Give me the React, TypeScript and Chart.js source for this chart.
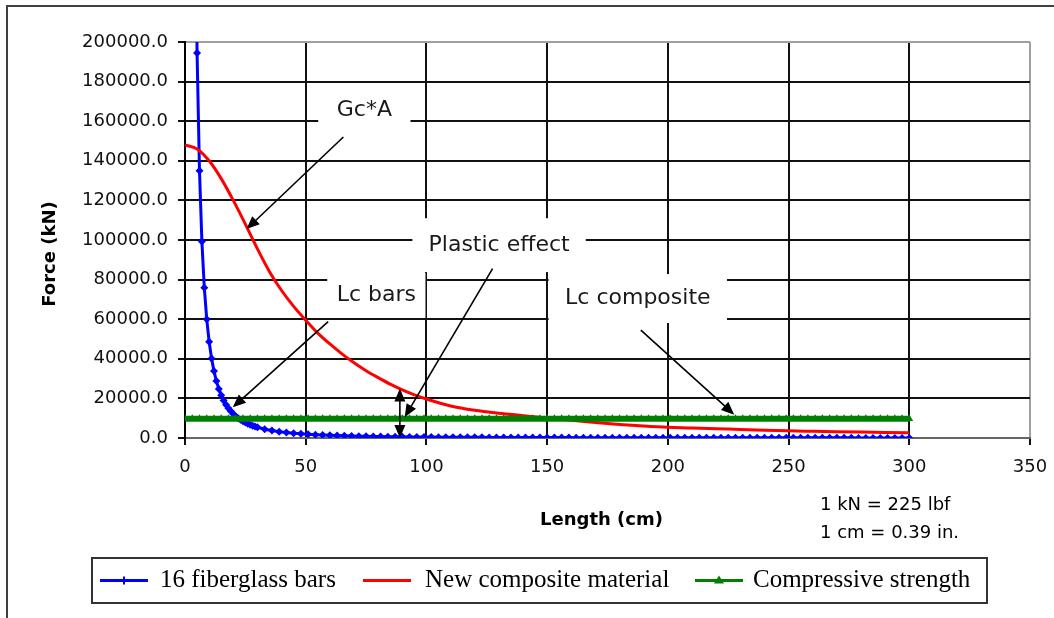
import React, { useEffect, useRef } from "react";
import { Chart, registerables } from "chart.js";

Chart.register(...registerables);

// ---------- data ----------
const seriesNames = ["16 fiberglass bars", "New composite material", "Compressive strength"];

const barLengths = [
  4, 5, 6, 7, 8, 9, 10, 11, 12, 13, 14, 15, 16, 17, 18, 19, 20, 21, 22, 23, 24, 25, 26, 27, 28, 29, 30,
  33, 36, 39, 42, 45, 48, 51, 54, 57, 60, 63, 66, 69, 72, 75, 78, 81, 84, 87, 90, 93, 96, 99,
  102, 105, 108, 111, 114, 117, 120, 123, 126, 129, 132, 135, 138, 141, 144, 147, 150,
  153, 156, 159, 162, 165, 168, 171, 174, 177, 180, 183, 186, 189, 192, 195, 198, 201,
  204, 207, 210, 213, 216, 219, 222, 225, 228, 231, 234, 237, 240, 243, 246, 249, 252,
  255, 258, 261, 264, 267, 270, 273, 276, 279, 282, 285, 288, 291, 294, 297, 300,
];
const barForces = [
  303800, 194400, 135000, 99200, 75900, 60000, 48600, 40200, 33800, 28800, 24800, 21600, 19000, 16800, 15000, 13500, 12150, 11000, 10000, 9200, 8400, 7800, 7200, 6700, 6200, 5800, 5400,
  4460, 3750, 3200, 2760, 2400, 2110, 1870, 1670, 1500, 1350, 1220, 1120, 1020, 940, 860, 800, 740, 690, 640, 600, 560, 530, 500,
  470, 440, 420, 390, 370, 355, 340, 320, 305, 290, 280, 265, 255, 245, 235, 225, 215,
  210, 200, 190, 185, 180, 170, 165, 160, 155, 150, 145, 140, 135, 130, 128, 124, 120,
  117, 113, 110, 107, 104, 101, 99, 96, 93, 91, 89, 87, 84, 82, 80, 78, 77,
  75, 73, 71, 70, 68, 67, 65, 64, 62, 61, 60, 59, 57, 56, 55, 54,
];

const compositeLengths = [
  0, 5, 10, 15, 20, 25, 30, 35, 40, 45, 50, 55, 60, 65, 70, 75, 80, 85, 90, 95, 100,
  110, 120, 130, 140, 150, 160, 170, 180, 190, 200, 210, 220, 230, 240, 250, 260, 270, 280, 290, 300,
];
const compositeForces = [
  148000, 146000, 140000, 131000, 120000, 108000, 95500, 84000, 74500, 66500, 59500, 53000, 47500, 42500, 38000, 34000, 30500, 27200, 24300, 21800, 19700,
  16200, 14000, 12500, 11300, 10100, 9000, 7800, 6800, 6000, 5400, 5100, 4700, 4300, 3900, 3600, 3400, 3200, 3000, 2800, 2600,
];

const strengthLengths = [
  0, 3, 6, 9, 12, 15, 18, 21, 24, 27, 30, 33, 36, 39, 42, 45, 48, 51, 54, 57, 60, 63, 66, 69, 72, 75,
  78, 81, 84, 87, 90, 93, 96, 99, 102, 105, 108, 111, 114, 117, 120, 123, 126, 129, 132, 135, 138, 141, 144, 147, 150,
  153, 156, 159, 162, 165, 168, 171, 174, 177, 180, 183, 186, 189, 192, 195, 198, 201, 204, 207, 210, 213, 216, 219, 222, 225,
  228, 231, 234, 237, 240, 243, 246, 249, 252, 255, 258, 261, 264, 267, 270, 273, 276, 279, 282, 285, 288, 291, 294, 297, 300,
];
const strengthForces = [
  9700, 9700, 9700, 9700, 9700, 9700, 9700, 9700, 9700, 9700, 9700, 9700, 9700, 9700, 9700, 9700, 9700, 9700, 9700, 9700, 9700, 9700, 9700, 9700, 9700, 9700,
  9700, 9700, 9700, 9700, 9700, 9700, 9700, 9700, 9700, 9700, 9700, 9700, 9700, 9700, 9700, 9700, 9700, 9700, 9700, 9700, 9700, 9700, 9700, 9700, 9700,
  9700, 9700, 9700, 9700, 9700, 9700, 9700, 9700, 9700, 9700, 9700, 9700, 9700, 9700, 9700, 9700, 9700, 9700, 9700, 9700, 9700, 9700, 9700, 9700, 9700,
  9700, 9700, 9700, 9700, 9700, 9700, 9700, 9700, 9700, 9700, 9700, 9700, 9700, 9700, 9700, 9700, 9700, 9700, 9700, 9700, 9700, 9700, 9700, 9700, 9700,
];

// axis ranges / ticks
const xMin = 0, xMax = 350, xStep = 50;
const yMin = 0, yMax = 200000, yStep = 20000;

// text
const xTitle = "Length (cm)";
const yTitle = "Force (kN)";
const notes = ["1 kN = 225 lbf", "1 cm = 0.39 in."];

// callouts (in data units)
const callouts = [
  { text: "Gc*A", box: [55.2, 153500, 93.4, 178000], from: [65.6, 152000], to: [25.5, 105500] },
  { text: "Plastic effect", box: [94.2, 83800, 166, 111000], from: [127.4, 85500], to: [91, 10500] },
  { text: "Lc bars", box: [58.9, 60600, 99.6, 83300], from: [59.3, 58800], to: [19.8, 15500] },
  { text: "Lc composite", box: [150.6, 58100, 224.5, 82800], from: [188.8, 54500], to: [227.5, 11800] },
];
const doubleArrow = { x: 89, top: 25000, bottom: 0 };

// ---------- styles ----------
const W = 1054, H = 618;
const SANS = "DejaVu Sans";
const SERIF = "Liberation Serif";
const BLUE = "#0000ff", RED = "#ff0000", GREEN = "#008000";

function toPoints(xs: number[], ys: number[]) {
  return xs.map((x, i) => ({ x, y: ys[i] }));
}

function drawArrowHead(ctx: CanvasRenderingContext2D, x1: number, y1: number, x2: number, y2: number, len = 13, hw = 5.5) {
  const a = Math.atan2(y2 - y1, x2 - x1);
  const bx = x2 - len * Math.cos(a), by = y2 - len * Math.sin(a);
  ctx.beginPath();
  ctx.moveTo(x2, y2);
  ctx.lineTo(bx + hw * Math.sin(a), by - hw * Math.cos(a));
  ctx.lineTo(bx - hw * Math.sin(a), by + hw * Math.cos(a));
  ctx.closePath();
  ctx.fill();
}

function drawArrow(ctx: CanvasRenderingContext2D, x1: number, y1: number, x2: number, y2: number) {
  const a = Math.atan2(y2 - y1, x2 - x1);
  ctx.beginPath();
  ctx.moveTo(x1, y1);
  ctx.lineTo(x2 - 10 * Math.cos(a), y2 - 10 * Math.sin(a));
  ctx.stroke();
  drawArrowHead(ctx, x1, y1, x2, y2);
}

const calloutPlugin = {
  id: "callouts",
  afterDatasetsDraw(chart: any) {
    const { ctx } = chart;
    const xs = chart.scales.x, ys = chart.scales.y;
    const px = (v: number) => xs.getPixelForValue(v);
    const py = (v: number) => ys.getPixelForValue(v);
    ctx.save();
    for (const c of callouts) {
      const [x0, y0, x1, y1] = c.box;
      const l = px(x0), r = px(x1), t = py(y1), b = py(y0);
      ctx.fillStyle = "#ffffff";
      ctx.fillRect(l, t, r - l, b - t);
      ctx.fillStyle = "#1a1a1a";
      ctx.font = `22px "${SANS}"`;
      ctx.textAlign = "center";
      ctx.textBaseline = "middle";
      ctx.fillText(c.text, (l + r) / 2, (t + b) / 2);
    }
    ctx.strokeStyle = "#000";
    ctx.fillStyle = "#000";
    ctx.lineWidth = 1.6;
    for (const c of callouts) {
      drawArrow(ctx, px(c.from[0]), py(c.from[1]), px(c.to[0]), py(c.to[1]));
    }
    const dx = px(doubleArrow.x), dt = py(doubleArrow.top), db = py(doubleArrow.bottom);
    ctx.beginPath();
    ctx.moveTo(dx, dt + 10);
    ctx.lineTo(dx, db - 10);
    ctx.stroke();
    drawArrowHead(ctx, dx, db, dx, dt);
    drawArrowHead(ctx, dx, dt, dx, db);
    ctx.restore();
  },
  afterDraw(chart: any) {
    const { ctx, chartArea } = chart;
    ctx.save();
    // outer frame
    ctx.strokeStyle = "#404040";
    ctx.lineWidth = 2;
    ctx.strokeRect(7, 6, W + 20, H + 20);

    ctx.fillStyle = "#000";
    // y title
    ctx.save();
    ctx.translate(50, 254);
    ctx.rotate(-Math.PI / 2);
    ctx.font = `bold 18px "${SANS}"`;
    ctx.textAlign = "center";
    ctx.textBaseline = "middle";
    ctx.fillText(yTitle, 0, 0);
    ctx.restore();
    // x title
    ctx.font = `bold 18px "${SANS}"`;
    ctx.textAlign = "center";
    ctx.textBaseline = "middle";
    ctx.fillText(xTitle, (chartArea.left + chartArea.right) / 2 - 6, 520);
    // notes
    ctx.font = `18px "${SANS}"`;
    ctx.textAlign = "left";
    ctx.fillText(notes[0], 820, 505);
    ctx.fillText(notes[1], 820, 533);

    // legend
    const lx = 92, ly = 558, lw = 895, lh = 45;
    ctx.fillStyle = "#ffffff";
    ctx.fillRect(lx, ly, lw, lh);
    ctx.strokeStyle = "#333";
    ctx.lineWidth = 2;
    ctx.strokeRect(lx, ly, lw, lh);
    const cy = ly + lh / 2;
    const items = [
      { color: BLUE, x: 100, textX: 160, marker: "cross" },
      { color: RED, x: 363, textX: 425, marker: "none" },
      { color: GREEN, x: 695, textX: 753, marker: "triangle" },
    ];
    items.forEach((it, i) => {
      ctx.strokeStyle = it.color;
      ctx.fillStyle = it.color;
      ctx.lineWidth = 3;
      ctx.beginPath();
      ctx.moveTo(it.x, cy);
      ctx.lineTo(it.x + 48, cy);
      ctx.stroke();
      const mx = it.x + 24;
      if (it.marker === "cross") {
        ctx.lineWidth = 2;
        ctx.beginPath();
        ctx.moveTo(mx, cy - 4);
        ctx.lineTo(mx, cy + 4);
        ctx.stroke();
      } else if (it.marker === "triangle") {
        ctx.beginPath();
        ctx.moveTo(mx, cy - 5);
        ctx.lineTo(mx + 5, cy + 3);
        ctx.lineTo(mx - 5, cy + 3);
        ctx.closePath();
        ctx.fill();
      }
      ctx.fillStyle = "#000";
      ctx.font = `25px "${SERIF}"`;
      ctx.textAlign = "left";
      ctx.textBaseline = "middle";
      ctx.fillText(seriesNames[i], it.textX, cy);
    });
    ctx.restore();
  },
};

export default function App() {
  const ref = useRef<HTMLCanvasElement>(null);
  useEffect(() => {
    const canvas = ref.current;
    if (!canvas) return;
    const chart = new Chart(canvas, {
      type: "line",
      data: {
        datasets: [
          {
            label: seriesNames[2],
            data: toPoints(strengthLengths, strengthForces),
            borderColor: GREEN,
            backgroundColor: GREEN,
            borderWidth: 6,
            pointStyle: "triangle",
            pointRadius: 4.5,
            pointBorderWidth: 0,
            pointBackgroundColor: GREEN,
            order: 0,
          },
          {
            label: seriesNames[1],
            data: toPoints(compositeLengths, compositeForces),
            borderColor: RED,
            borderWidth: 3,
            pointRadius: 0,
            cubicInterpolationMode: "monotone",
            order: 1,
          },
          {
            label: seriesNames[0],
            data: toPoints(barLengths, barForces),
            borderColor: BLUE,
            backgroundColor: BLUE,
            borderWidth: 3,
            pointStyle: "rectRot",
            pointRadius: 4,
            pointBorderWidth: 0,
            pointBackgroundColor: BLUE,
            order: 2,
          },
        ],
      } as any,
      options: {
        responsive: false,
        animation: false,
        layout: { padding: { left: 0, top: 42, right: 24, bottom: 0 } },
        plugins: { legend: { display: false }, tooltip: { enabled: false }, title: { display: false } },
        scales: {
          x: {
            type: "linear",
            min: xMin,
            max: xMax,
            ticks: { stepSize: xStep, font: { family: SANS, size: 18 }, color: "#111", padding: 12, maxRotation: 0 },
            grid: {
              color: (c: any) => (c.tick && c.tick.value === xMax ? "#a0a0a0" : "#111"),
              lineWidth: 2,
              tickLength: 7,
              tickColor: "#111",
            },
            border: { color: "#666", width: 2 },
            afterFit: (s: any) => { s.height = 180; s.paddingLeft = 0; s.paddingRight = 0; },
          },
          y: {
            min: yMin,
            max: yMax,
            ticks: {
              stepSize: yStep,
              font: { family: SANS, size: 18 },
              color: "#111",
              padding: 10,
              callback: (v: any) => Number(v).toFixed(1),
            },
            grid: {
              color: (c: any) => (c.tick && c.tick.value === yMax ? "#a0a0a0" : "#111"),
              lineWidth: 2,
              tickLength: 7,
              tickColor: "#111",
            },
            border: { color: "#000", width: 2 },
            afterFit: (s: any) => { s.width = 185; s.paddingTop = 0; s.paddingBottom = 0; },
          },
        },
      } as any,
      plugins: [calloutPlugin],
    });
    return () => chart.destroy();
  }, []);
  return (
    <div style={{ position: "absolute", left: 0, top: 0, width: W, height: H, background: "#fff" }}>
      <canvas ref={ref} width={W} height={H} style={{ display: "block", width: W, height: H }} />
    </div>
  );
}
